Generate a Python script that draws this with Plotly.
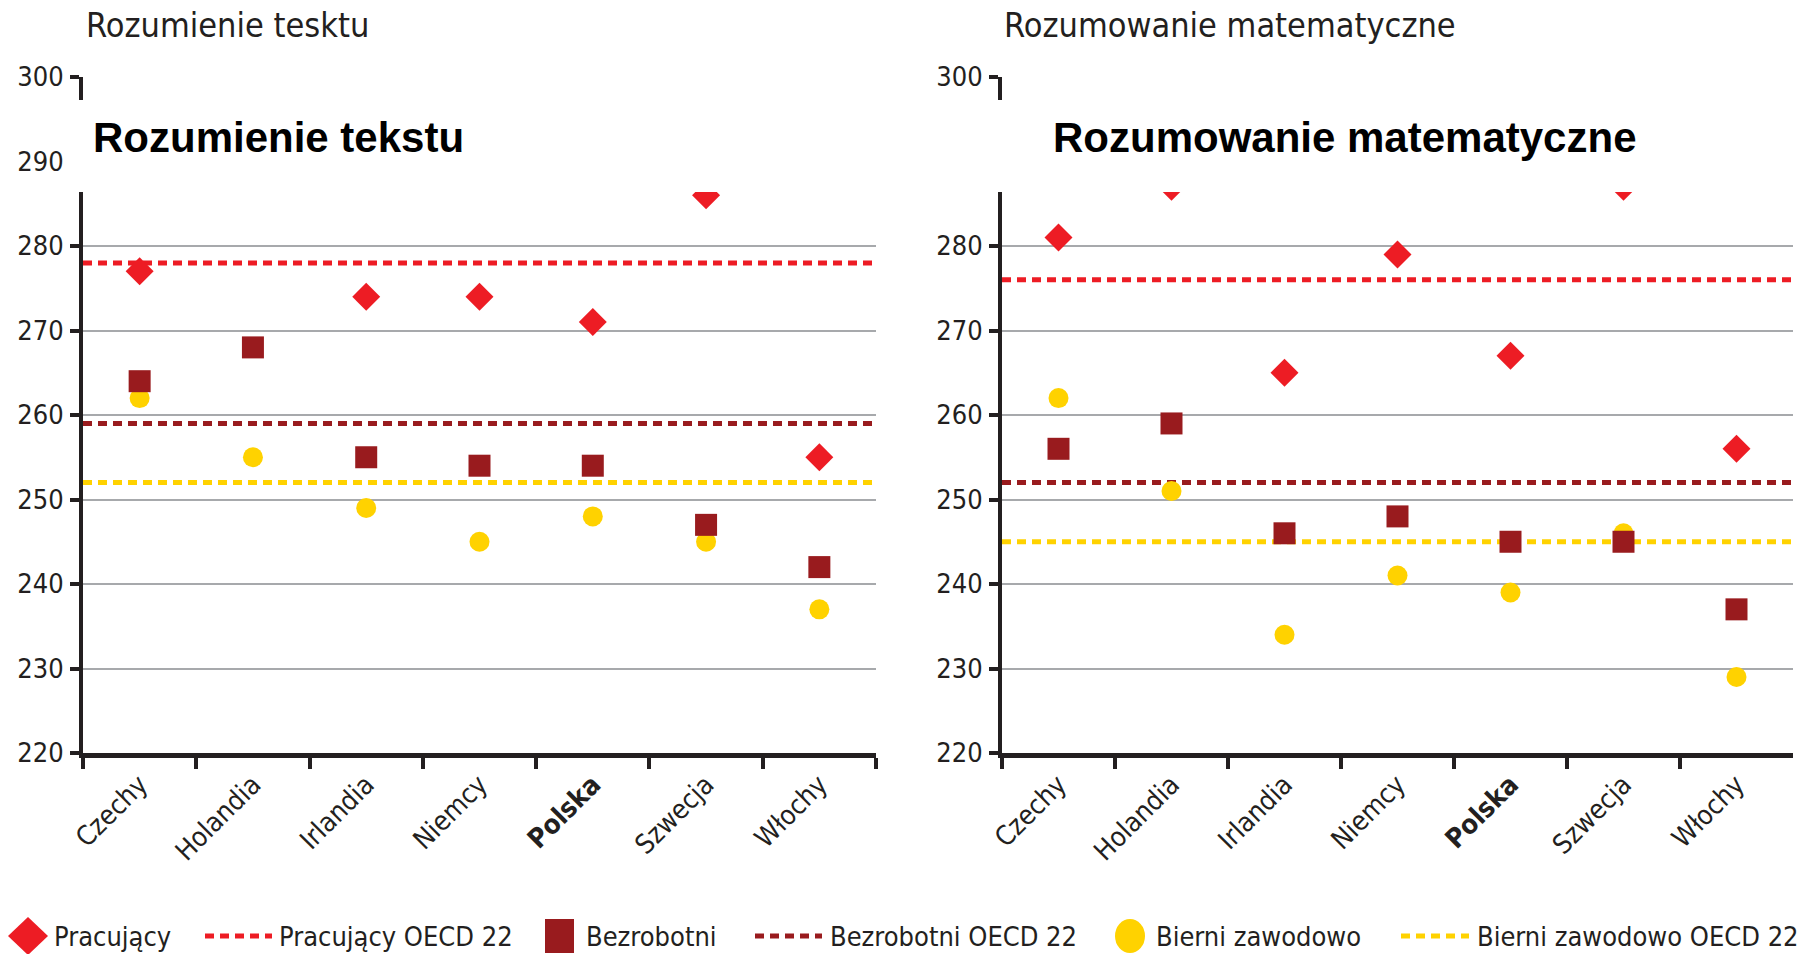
import plotly.graph_objects as go

# ---------------- data ----------------
countries = ["Czechy", "Holandia", "Irlandia", "Niemcy", "Polska", "Szwecja", "Włochy"]
tick_labels = ["Czechy", "Holandia", "Irlandia", "Niemcy", "<b>Polska</b>", "Szwecja", "Włochy"]

read_pracujacy = [277, 290, 274, 274, 271, 286, 255]
read_bezrobotni = [264, 268, 255, 254, 254, 247, 242]
read_bierni = [262, 255, 249, 245, 248, 245, 237]
read_oecd = {"Pracujący OECD 22": 278, "Bezrobotni OECD 22": 259, "Bierni zawodowo OECD 22": 252}

math_pracujacy = [281, 287, 265, 279, 267, 287, 256]
math_bezrobotni = [256, 259, 246, 248, 245, 245, 237]
math_bierni = [262, 251, 234, 241, 239, 246, 229]
math_oecd = {"Pracujący OECD 22": 276, "Bezrobotni OECD 22": 252, "Bierni zawodowo OECD 22": 245}

y_ticks = [220, 230, 240, 250, 260, 270, 280, 290, 300]

# ---------------- style ----------------
RED = "#ed1c24"
DARKRED = "#991b1e"
YELLOW = "#ffd200"
INK = "#231f20"
GRID = "#a7a9ac"
COND = "DejaVu Sans Condensed, Liberation Sans Narrow, Arial Narrow, sans-serif"
BOLD = "Liberation Sans, Arial, Helvetica, sans-serif"

W, H = 1808, 954
L, R, T, B = 83, 15, 77, 201
PW, PH = W - L - R, H - T - B


def px(x):
    return (x - L) / PW


def py(y):
    return (H - B - y) / PH


fig = go.Figure()

panels = [
    ("x", "y", read_pracujacy, read_bezrobotni, read_bierni),
    ("x2", "y2", math_pracujacy, math_bezrobotni, math_bierni),
]

for xa, ya, prac, bezr, bier in panels:
    fig.add_trace(go.Scatter(
        x=countries, y=bier, mode="markers", name="Bierni zawodowo",
        marker=dict(symbol="circle", size=20, color=YELLOW, line=dict(width=0)),
        xaxis=xa, yaxis=ya, showlegend=False, cliponaxis=True))
    fig.add_trace(go.Scatter(
        x=countries, y=bezr, mode="markers", name="Bezrobotni",
        marker=dict(symbol="square", size=22, color=DARKRED, line=dict(width=0)),
        xaxis=xa, yaxis=ya, showlegend=False, cliponaxis=True))
    fig.add_trace(go.Scatter(
        x=countries, y=prac, mode="markers", name="Pracujący",
        marker=dict(symbol="diamond", size=21.5, color=RED, line=dict(width=0)),
        xaxis=xa, yaxis=ya, showlegend=False, cliponaxis=True))

line_colors = {"Pracujący OECD 22": RED, "Bezrobotni OECD 22": DARKRED,
               "Bierni zawodowo OECD 22": YELLOW}
DASH = "9px,6px"

shapes = []
for xa, ya, oecd in [("x", "y", read_oecd), ("x2", "y2", math_oecd)]:
    for name, val in oecd.items():
        shapes.append(dict(type="line", xref=f"{xa} domain", yref=ya,
                           x0=0, x1=1, y0=val, y1=val, layer="below",
                           line=dict(color=line_colors[name], width=5, dash=DASH)))

# white overlay box hiding the 290 band
shapes.append(dict(type="rect", xref="paper", yref="paper",
                   x0=px(68), x1=px(W + 5), y0=py(192), y1=py(100),
                   fillcolor="white", line=dict(width=0), layer="above"))

# ---------------- manual legend ----------------
LY = 936
annotations = []


def leg_text(x, text):
    annotations.append(dict(xref="paper", yref="paper", x=px(x), y=py(LY),
                            xanchor="left", yanchor="middle", showarrow=False,
                            text=text, font=dict(family=COND, size=27, color=INK)))


def leg_line(x0, x1, color):
    shapes.append(dict(type="line", xref="paper", yref="paper",
                       x0=px(x0), x1=px(x1), y0=py(LY), y1=py(LY),
                       line=dict(color=color, width=5, dash=DASH)))


# diamond
cx, hw, hh = 28, 20, 19
path = (f"M {px(cx)},{py(LY - hh)} L {px(cx + hw)},{py(LY)} "
        f"L {px(cx)},{py(LY + hh)} L {px(cx - hw)},{py(LY)} Z")
shapes.append(dict(type="path", xref="paper", yref="paper", path=path,
                   fillcolor=RED, line=dict(width=0)))
leg_text(52, "Pracujący")
leg_line(205, 272, RED)
leg_text(277, "Pracujący OECD 22")
shapes.append(dict(type="rect", xref="paper", yref="paper",
                   x0=px(545), x1=px(574), y0=py(LY + 17), y1=py(LY - 17),
                   fillcolor=DARKRED, line=dict(width=0)))
leg_text(584, "Bezrobotni")
leg_line(755, 822, DARKRED)
leg_text(828, "Bezrobotni OECD 22")
shapes.append(dict(type="circle", xref="paper", yref="paper",
                   x0=px(1115), x1=px(1145), y0=py(LY + 17), y1=py(LY - 17),
                   fillcolor=YELLOW, line=dict(width=0)))
leg_text(1154, "Bierni zawodowo")
leg_line(1401, 1469, YELLOW)
leg_text(1475, "Bierni zawodowo OECD 22")

# ---------------- titles ----------------
annotations += [
    dict(xref="paper", yref="paper", x=px(84), y=py(25), xanchor="left", yanchor="middle",
         showarrow=False, text="Rozumienie tesktu", font=dict(family=COND, size=34, color=INK)),
    dict(xref="paper", yref="paper", x=px(1002), y=py(25), xanchor="left", yanchor="middle",
         showarrow=False, text="Rozumowanie matematyczne", font=dict(family=COND, size=34, color=INK)),
    dict(xref="paper", yref="paper", x=px(91), y=py(137), xanchor="left", yanchor="middle",
         showarrow=False, text="<b>Rozumienie tekstu</b>", font=dict(family=BOLD, size=42, color="black")),
    dict(xref="paper", yref="paper", x=px(1051), y=py(137), xanchor="left", yanchor="middle",
         showarrow=False, text="<b>Rozumowanie matematyczne</b>", font=dict(family=BOLD, size=42, color="black")),
]

xaxis_common = dict(
    type="category", categoryorder="array", categoryarray=countries,
    tickmode="array", tickvals=countries, ticktext=tick_labels,
    tickson="boundaries", ticks="outside", ticklen=11, tickwidth=4, tickcolor=INK,
    showline=True, linecolor=INK, linewidth=5, showgrid=False, zeroline=False,
    tickangle=-45, tickfont=dict(family=COND, size=27, color=INK),
    range=[-0.5, 6.5], fixedrange=True,
)
yaxis_common = dict(
    range=[220, 300], tickmode="array", tickvals=y_ticks,
    ticks="outside", ticklen=9, tickwidth=4, tickcolor=INK,
    showline=True, linecolor=INK, linewidth=4,
    showgrid=True, gridcolor=GRID, gridwidth=2, zeroline=False,
    tickfont=dict(family=COND, size=27, color=INK), ticklabelstandoff=1,
    fixedrange=True,
)

fig.update_layout(
    width=W, height=H,
    margin=dict(l=L, r=R, t=T, b=B, pad=0),
    paper_bgcolor="white", plot_bgcolor="white",
    showlegend=False,
    xaxis=dict(domain=[0, px(876)], anchor="y", **xaxis_common),
    xaxis2=dict(domain=[px(1002), 1], anchor="y2", **xaxis_common),
    yaxis=dict(domain=[0, 1], anchor="x", **yaxis_common),
    yaxis2=dict(domain=[0, 1], anchor="x2", **yaxis_common),
    shapes=shapes,
    annotations=annotations,
)

fig.write_html(
    "out.html",
    config={"displayModeBar": False},
    post_script="document.body.style.margin='0px';document.body.style.overflow='hidden';",
)
